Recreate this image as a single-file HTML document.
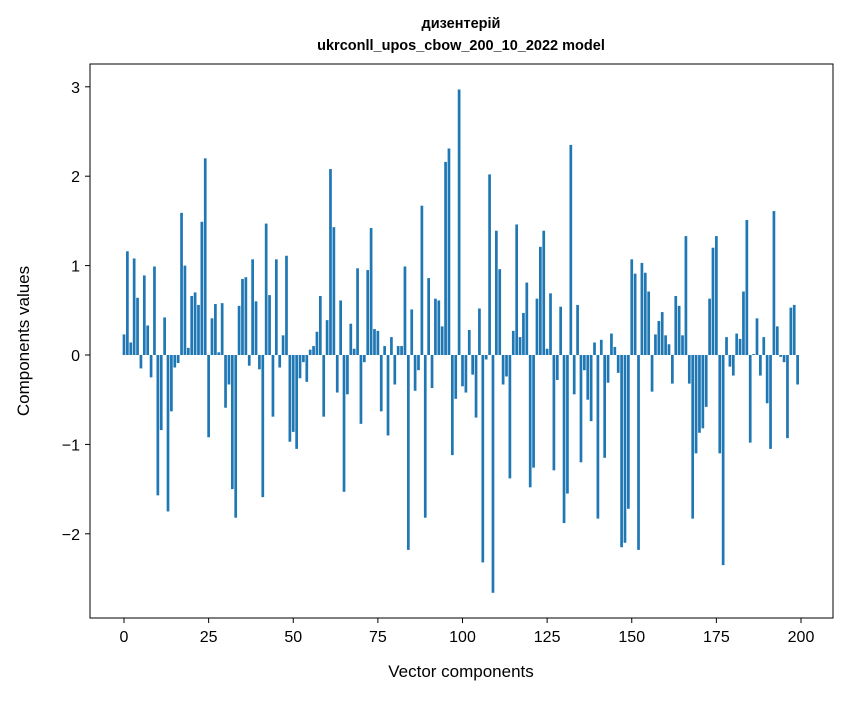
<!DOCTYPE html>
<html><head><meta charset="utf-8"><style>
body{margin:0;background:#fff;}
svg text{font-family:"Liberation Sans","DejaVu Sans",sans-serif;}
</style></head><body>
<svg id="chart" width="847" height="696" xmlns="http://www.w3.org/2000/svg">
<rect width="847" height="696" fill="#fff"/>
<text x="461" y="28" text-anchor="middle" font-size="14.5" font-weight="bold">дизентерій</text>
<text x="461" y="50" text-anchor="middle" font-size="14.5" font-weight="bold">ukrconll_upos_cbow_200_10_2022 model</text>
<g id="bars"></g>
<rect x="90" y="64" width="743" height="554" fill="none" stroke="#000" stroke-width="1"/>
<g id="xticks"></g>
<g id="yticks"></g>
<text x="461" y="677" text-anchor="middle" font-size="17">Vector components</text>
<text transform="translate(29,341) rotate(-90)" text-anchor="middle" font-size="17">Components values</text>
</svg>
<script>
const values=[0.23,1.16,0.14,1.08,0.64,-0.15,0.89,0.33,-0.25,0.99,-1.57,-0.84,0.42,-1.75,-0.63,-0.14,-0.09,1.59,1.0,0.08,
0.66,0.7,0.56,1.49,2.2,-0.92,0.41,0.57,0.03,0.58,-0.59,-0.33,-1.5,-1.82,0.55,0.85,0.87,-0.12,1.07,0.6,
-0.16,-1.59,1.47,0.67,-0.69,1.07,-0.14,0.22,1.11,-0.97,-0.86,-1.05,-0.26,-0.08,-0.3,0.06,0.1,0.26,0.66,-0.69,
0.39,2.08,1.43,-0.42,0.61,-1.53,-0.44,0.35,0.07,0.97,-0.77,-0.08,0.95,1.42,0.29,0.27,-0.63,0.1,-0.9,0.2,
-0.33,0.1,0.1,0.99,-2.18,0.51,-0.4,-0.17,1.67,-1.82,0.86,-0.37,0.63,0.61,0.32,2.16,2.31,-1.12,-0.49,2.97,
-0.35,-0.42,0.28,-0.22,-0.7,0.52,-2.32,-0.05,2.02,-2.66,1.39,0.96,-0.33,-0.24,-1.38,0.27,1.46,0.2,0.47,0.81,
-1.48,-1.26,0.63,1.21,1.39,0.07,0.69,-1.29,-0.28,0.54,-1.88,-1.55,2.35,-0.44,0.56,-1.2,-0.17,-0.5,-0.74,0.14,
-1.83,0.17,-1.15,-0.31,0.24,0.09,-0.2,-2.15,-2.1,-1.72,1.07,0.91,-2.18,1.03,0.92,0.71,-0.41,0.23,0.38,0.48,
0.22,0.12,-0.32,0.66,0.55,0.22,1.33,-0.32,-1.83,-1.1,-0.87,-0.82,-0.58,0.63,1.2,1.33,-1.1,-2.35,0.2,-0.13,
-0.23,0.24,0.18,0.71,1.51,-0.98,0.01,0.41,-0.23,0.2,-0.54,-1.05,1.61,0.32,-0.02,-0.08,-0.93,0.53,0.56,-0.33];
const xTickValues=[0,25,50,75,100,125,150,175,200];
const yTickValues=[-2,-1,0,1,2,3];
const NS="http://www.w3.org/2000/svg";
function xs(v){return 124+v*(677/200);}
function ys(v){return 355-v*89.4;}
const bars=document.getElementById('bars');
values.forEach((v,i)=>{
  const r=document.createElementNS(NS,'rect');
  
  
  const x0=xs(i-0.4),x1=xs(i+0.4);
  const y0=Math.min(ys(v),ys(0)),h=Math.abs(ys(v)-ys(0));
  r.setAttribute('x',x0);r.setAttribute('width',x1-x0);
  r.setAttribute('y',y0);r.setAttribute('height',h);
  r.setAttribute('fill','#1f77b4');
  bars.appendChild(r);
});
const xg=document.getElementById('xticks');
xTickValues.forEach(t=>{
  const l=document.createElementNS(NS,'line');
  
  
  l.setAttribute('x1',xs(t));l.setAttribute('x2',xs(t));l.setAttribute('y1',618);l.setAttribute('y2',623);
  l.setAttribute('stroke','#000');xg.appendChild(l);
  const tx=document.createElementNS(NS,'text');
  
  
  tx.setAttribute('x',xs(t));tx.setAttribute('y',642);tx.setAttribute('text-anchor','middle');tx.setAttribute('font-size','16');
  tx.textContent=t;xg.appendChild(tx);
});
const yg=document.getElementById('yticks');
yTickValues.forEach(t=>{
  const l=document.createElementNS(NS,'line');
  
  
  l.setAttribute('x1',85);l.setAttribute('x2',90);l.setAttribute('y1',ys(t));l.setAttribute('y2',ys(t));
  l.setAttribute('stroke','#000');yg.appendChild(l);
  const tx=document.createElementNS(NS,'text');
  
  
  tx.setAttribute('x',80);tx.setAttribute('y',ys(t)+6);tx.setAttribute('text-anchor','end');tx.setAttribute('font-size','16');
  tx.textContent=t<0?'\u2212'+Math.abs(t):t;yg.appendChild(tx);
});
</script>
</body></html>
